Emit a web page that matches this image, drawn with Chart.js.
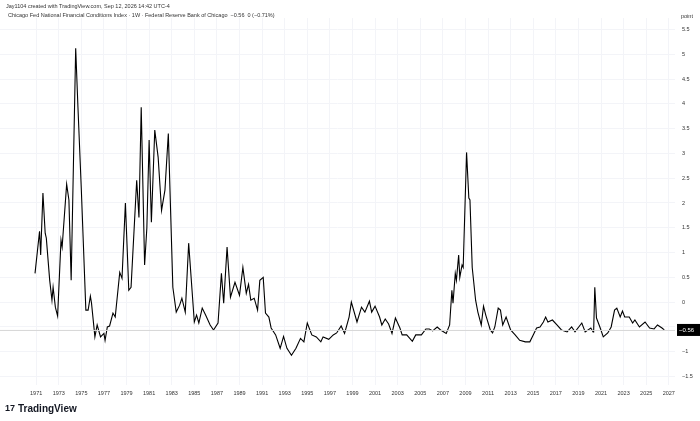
<!DOCTYPE html>
<html><head><meta charset="utf-8">
<script src="https://cdn.jsdelivr.net/npm/chart.js@4/dist/chart.umd.min.js"></script>
<style>html,body{margin:0;padding:0;background:#fff}#w{width:700px;height:421px;position:relative}</style>
</head><body><div id="w"><canvas id="c"></canvas></div>
<script>
const years = [1970.9,1971.3,1971.4,1971.6,1971.8,1971.9,1972.2,1972.4,1972.5,1972.7,1972.9,1973.2,1973.3,1973.7,1973.9,1974.1,1974.5,1974.7,1975.0,1975.4,1975.6,1975.8,1975.9,1976.2,1976.4,1976.7,1977.0,1977.1,1977.3,1977.5,1977.8,1978.0,1978.4,1978.6,1978.9,1979.2,1979.4,1979.9,1980.1,1980.3,1980.6,1980.8,1981.0,1981.2,1981.5,1981.8,1982.1,1982.4,1982.7,1983.1,1983.4,1983.7,1983.9,1984.2,1984.5,1985.0,1985.2,1985.4,1985.7,1986.0,1986.4,1986.7,1987.1,1987.4,1987.6,1987.9,1988.2,1988.6,1989.0,1989.3,1989.6,1989.8,1990.0,1990.3,1990.6,1990.8,1991.1,1991.3,1991.6,1991.8,1992.2,1992.6,1992.9,1993.2,1993.6,1994.0,1994.4,1994.7,1995.0,1995.4,1995.8,1996.2,1996.4,1996.9,1997.3,1997.6,1998.0,1998.3,1998.7,1998.9,1999.4,1999.8,2000.1,2000.5,2000.7,2001.0,2001.4,2001.6,2001.9,2002.2,2002.5,2002.8,2003.2,2003.4,2003.8,2004.3,2004.6,2005.1,2005.5,2005.8,2006.1,2006.5,2006.8,2007.3,2007.6,2007.8,2007.9,2008.1,2008.2,2008.4,2008.5,2008.7,2008.8,2009.1,2009.3,2009.4,2009.6,2009.9,2010.1,2010.4,2010.6,2010.8,2011.2,2011.4,2011.6,2011.9,2012.1,2012.3,2012.6,2013.0,2013.4,2013.8,2014.3,2014.7,2015.0,2015.3,2015.6,2015.9,2016.1,2016.3,2016.7,2017.1,2017.5,2018.0,2018.4,2018.7,2019.3,2019.6,2020.1,2020.3,2020.35,2020.45,2020.6,2020.9,2021.2,2021.6,2021.9,2022.2,2022.4,2022.7,2022.9,2023.1,2023.5,2023.8,2024.0,2024.4,2024.9,2025.3,2025.7,2026.0,2026.4,2026.6,2026.9];
const values = [0.58,1.43,0.95,2.2,1.39,1.29,0.44,0.04,0.3,-0.1,-0.28,1.25,1.11,2.38,2.06,0.44,5.12,3.93,2.26,-0.16,-0.16,0.12,-0.02,-0.7,-0.46,-0.7,-0.63,-0.77,-0.5,-0.48,-0.22,-0.3,0.6,0.48,2.0,0.24,0.3,2.46,1.71,3.93,0.75,1.5,3.27,1.61,3.47,2.92,1.85,2.26,3.4,0.3,-0.2,-0.06,0.08,-0.2,1.19,-0.4,-0.26,-0.42,-0.12,-0.26,-0.46,-0.56,-0.42,0.58,-0.02,1.11,0.1,0.4,0.14,0.7,0.18,0.36,0.04,0.08,-0.16,0.44,0.5,-0.22,-0.3,-0.52,-0.66,-0.93,-0.69,-0.93,-1.07,-0.93,-0.73,-0.8,-0.42,-0.66,-0.7,-0.8,-0.7,-0.75,-0.66,-0.62,-0.48,-0.63,-0.3,0.0,-0.4,-0.1,-0.2,0.02,-0.2,-0.08,-0.3,-0.46,-0.34,-0.44,-0.63,-0.32,-0.52,-0.66,-0.66,-0.79,-0.66,-0.66,-0.54,-0.54,-0.58,-0.5,-0.56,-0.63,-0.46,0.24,-0.02,0.58,0.44,0.95,0.5,0.75,0.7,3.02,2.1,2.06,0.7,0.04,-0.2,-0.46,-0.08,-0.26,-0.56,-0.62,-0.5,-0.12,-0.16,-0.46,-0.3,-0.56,-0.66,-0.77,-0.8,-0.8,-0.66,-0.52,-0.5,-0.4,-0.3,-0.4,-0.36,-0.46,-0.56,-0.6,-0.5,-0.6,-0.42,-0.6,-0.52,-0.6,-0.58,0.3,-0.32,-0.5,-0.7,-0.62,-0.5,-0.16,-0.12,-0.3,-0.18,-0.3,-0.3,-0.42,-0.36,-0.5,-0.4,-0.52,-0.54,-0.46,-0.52,-0.56];
const tickYears = [1971,1973,1975,1977,1979,1981,1983,1985,1987,1989,1991,1993,1995,1997,1999,2001,2003,2005,2007,2009,2011,2013,2015,2017,2019,2021,2023,2025,2027];
const yTicks = [-1.5,-1,-0.5,0,0.5,1,1.5,2,2.5,3,3.5,4,4.5,5,5.5];
const lastValue = -0.56;
const title1 = "Jay1104 created with TradingView.com, Sep 12, 2026 14:42 UTC-4";
const title2 = "Chicago Fed National Financial Conditions Index · 1W · Federal Reserve Bank of Chicago  −0.56  0 (−0.71%)";

const fmt = v => (v < 0 ? '−' : '') + Math.abs(v);
const deco = {
  id:'deco',
  afterDatasetsDraw(ch){
    const c = ch.ctx, y = ch.scales.y, a = ch.chartArea;
    const py = y.getPixelForValue(lastValue);
    c.save();
    c.strokeStyle = '#d6d6d6'; c.lineWidth = 1;
    c.beginPath(); c.moveTo(a.left, py+0.5); c.lineTo(a.right, py+0.5); c.stroke();
    c.fillStyle = '#000'; c.fillRect(a.right+2, py-6, 23, 12);
    c.fillStyle = '#fff'; c.font = '6px "Liberation Sans"'; c.textBaseline='middle'; c.textAlign='left';
    c.fillText(fmt(lastValue), a.right+4, py);
    c.fillStyle = '#333'; c.font = '5.5px "Liberation Sans"';
    c.fillText('point', a.right+6, 16);
    c.fillText(title1, 6, 6);
    c.fillText(title2, 8, 15);
    c.fillStyle = '#131722'; c.font = 'bold 10px "Liberation Sans"';
    c.fillText('TradingView', 18, 409);
    c.font = 'bold 9px "Liberation Sans"';
    c.fillText('17', 5, 409);
    c.restore();
  }
};
new Chart(document.getElementById('c'), {
  type:'line',
  data:{datasets:[{data: years.map((x,i)=>({x, y: values[i]})), borderColor:'#000', borderWidth:1.1, pointRadius:0, tension:0}]},
  options:{
    responsive:true, maintainAspectRatio:false, animation:false,
    layout:{padding:{top:18,bottom:21,left:0,right:0}},
    plugins:{legend:{display:false}, tooltip:{enabled:false}},
    scales:{
      x:{type:'linear', min:1967.8, max:2027.55,
         afterBuildTicks:s=>{s.ticks = tickYears.map(v=>({value:v}));},
         afterFit:s=>{s.height=15;},
         grid:{color:'#f3f4f8', drawTicks:false}, border:{display:false},
         ticks:{color:'#333', font:{size:5.5, family:'Liberation Sans'}, padding:5, maxRotation:0, autoSkip:false, callback:v=>String(v)}},
      y:{position:'right', min:-1.67, max:5.73,
         afterBuildTicks:s=>{s.ticks = yTicks.map(v=>({value:v}));},
         afterFit:s=>{s.width=25;},
         grid:{color:'#f3f4f8', drawTicks:false}, border:{display:false},
         ticks:{color:'#333', font:{size:5.5, family:'Liberation Sans'}, padding:7, callback:v=>fmt(v)}}
    }
  },
  plugins:[deco]
});
</script></body></html>
